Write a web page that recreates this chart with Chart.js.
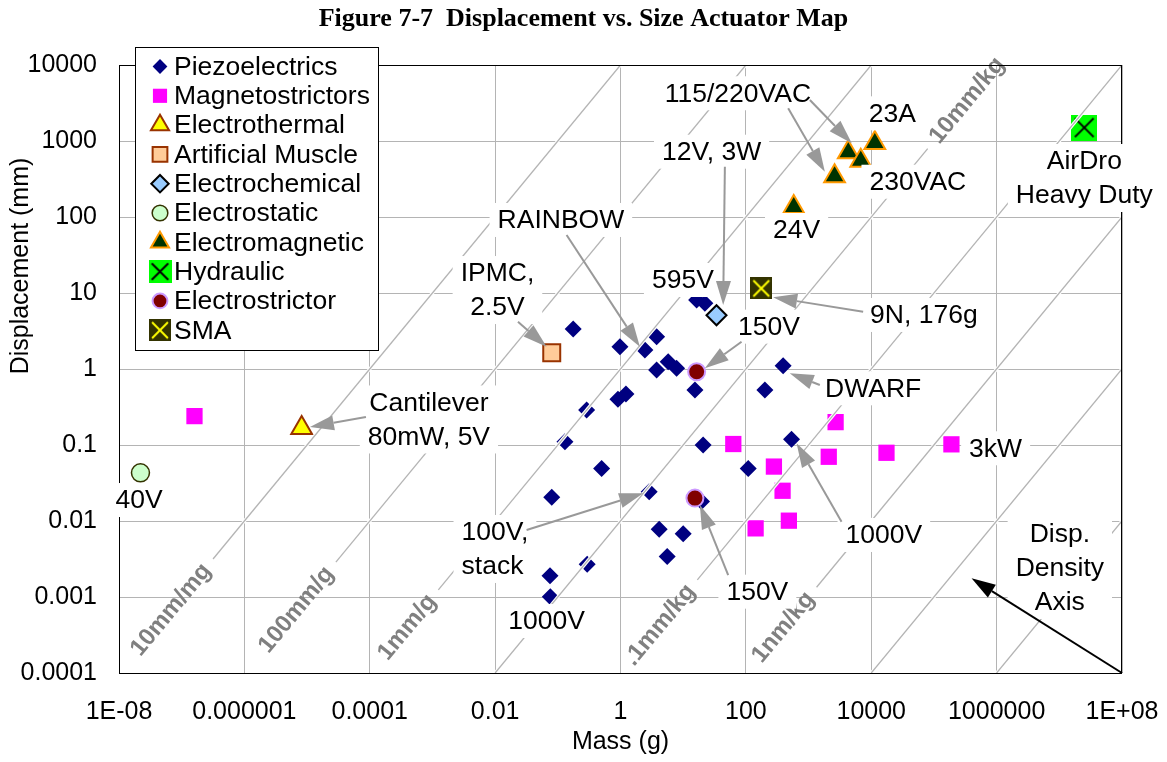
<!DOCTYPE html>
<html><head><meta charset="utf-8">
<script src="https://cdn.jsdelivr.net/npm/chart.js@4.4.1/dist/chart.umd.min.js"></script>
<style>html,body{margin:0;padding:0;background:#fff;}canvas{display:block;}</style>
</head><body>
<canvas id="c" width="1167" height="762"></canvas>
<script>
// ---------- DATA ----------
const xTickValues = [1e-8, 1e-6, 1e-4, 1e-2, 1, 1e2, 1e4, 1e6, 1e8];
const xTickLabels = ['1E-08', '0.000001', '0.0001', '0.01', '1', '100', '10000', '1000000', '1E+08'];
const yTickValues = [1e-4, 1e-3, 1e-2, 0.1, 1, 10, 100, 1000, 1e4];
const yTickLabels = ['0.0001', '0.001', '0.01', '0.1', '1', '10', '100', '1000', '10000'];

const piezoMass = [0.176, 0.98, 2.45, 3.77, 3.77, 5.77, 7.85, 15.4, 16.4, 22.2, 201, 393, 0.288, 0.91, 1.22, 0.130, 0.50, 0.080, 2.87, 19.6, 20.8, 109, 4.14, 10.0, 5.56, 0.075, 0.294, 0.076, 535];
const piezoDisp = [3.36, 1.96, 1.78, 2.66, 0.97, 1.25, 1.02, 0.53, 8.09, 7.32, 0.53, 1.10, 0.289, 0.40, 0.47, 0.110, 0.049, 0.0205, 0.0243, 0.018, 0.100, 0.049, 0.0078, 0.0068, 0.0034, 0.0019, 0.0027, 0.00101, 0.119];
const magnetoMass = [1.6e-7, 63, 280, 2700, 2100, 17500, 190000, 385, 485, 143];
const magnetoDisp = [0.24, 0.103, 0.052, 0.20, 0.070, 0.079, 0.102, 0.025, 0.0101, 0.0080];
const thermalMass = [8.2e-6];
const thermalDisp = [0.168];
const muscleMass = [0.080];
const muscleDisp = [1.64];
const chemMass = [34];
const chemDisp = [5.1];
const staticMass = [2.2e-8];
const staticDisp = [0.043];
const emagMass = [11400, 4300, 6800, 2600, 580];
const emagDisp = [940, 710, 550, 345, 135];
const hydraulicMass = [2.5e7];
const hydraulicDisp = [1500];
const strictorMass = [16.4, 15.4];
const strictorDisp = [0.92, 0.020];
const smaMass = [176];
const smaDisp = [11.5];

// displacement-density guide lines (mm per g) and their labels
const densityValues = [1e4, 1e2, 1, 1e-2, 1e-4, 1e-6, 1e-8, 1e-10];
const densityLabels = ['10mm/mg', '100mm/g', '1mm/g', '10mm/kg', '.1mm/kg', '1nm/kg', '', ''];

// ---------- LAYOUT / STYLE CONFIG ----------
const FONT = "'Liberation Sans', Arial, sans-serif";
const NOTE_FONT = '26.5px ' + FONT;
// label placement along each density line: log10(displacement) of label centre, and which end it sits at
const densityLabelPlace = [
  {ly: -3.17, end: 'start'}, {ly: -3.17, end: 'start'}, {ly: -3.40, end: 'start'},
  {ly: 3.53, end: 'end'}, {ly: -3.37, end: 'start'}, {ly: -3.40, end: 'start'}, null, null
];
// callouts: positions in log10 (mass, displacement) space
const callouts = [
  {text: ['Cantilever', '80mW, 5V'], at: [-3.056, -0.664], arrows: [[[-4.061, -0.632], [-4.954, -0.763]]]},
  {text: ['40V'], at: [-7.681, -1.724]},
  {text: ['IPMC,', '2.5V'], at: [-1.963, 1.039], arrows: [[[-1.636, 0.622], [-1.179, 0.293]]]},
  {text: ['RAINBOW'], at: [-0.951, 1.961], arrows: [[[-0.860, 1.763], [0.309, 0.293]]]},
  {text: ['595V'], at: [0.995, 1.171]},
  {text: ['12V, 3W'], at: [1.453, 2.859], arrows: [[[1.665, 2.662], [1.638, 0.842]]]},
  {text: ['115/220VAC'], at: [1.872, 3.628], arrows: [[[2.675, 3.430], [3.260, 2.596]], [[3.021, 3.539], [3.689, 2.970]]]},
  {text: ['23A'], at: [4.337, 3.364]},
  {text: ['230VAC'], at: [4.743, 2.464]},
  {text: ['24V'], at: [2.809, 1.829]},
  {text: ['9N, 176g'], at: [4.839, 0.711], arrows: [[[3.871, 0.754], [2.435, 0.943]]]},
  {text: ['150V'], at: [2.37, 0.557], arrows: [[[1.931, 0.359], [1.346, 0.009]]]},
  {text: ['DWARF'], at: [4.030, -0.254], arrows: [[[3.180, -0.211], [2.700, -0.057]]]},
  {text: ['3kW'], at: [5.984, -1.043]},
  {text: ['1000V'], at: [4.201, -2.184], arrows: [[[3.526, -2.009], [2.809, -0.978]]]},
  {text: ['100V,', 'stack'], at: [-2.003, -2.368], align: 'left', arrows: [[[-1.498, -2.118], [0.362, -1.636]]]},
  {text: ['1000V'], at: [-1.179, -3.316]},
  {text: ['150V'], at: [2.183, -2.930], arrows: [[[1.718, -2.711], [1.266, -1.789]]]},
  {text: ['AirDro', 'Heavy Duty'], at: [7.399, 2.513]},
  {text: ['Disp.', 'Density', 'Axis'], at: [7.008, -2.618], arrows: [[[8, -4], [5.600, -2.754]]], arrowColor: '#000000'}
];

function markerCanvas(size, fill, cross, lw) {
  const c = document.createElement('canvas');
  c.width = size; c.height = size;
  const g = c.getContext('2d');
  g.fillStyle = fill; g.fillRect(0, 0, size, size);
  g.strokeStyle = cross; g.lineWidth = lw;
  const m = size * 0.14;
  g.beginPath();
  g.moveTo(m, m); g.lineTo(size - m, size - m);
  g.moveTo(size - m, m); g.lineTo(m, size - m);
  g.stroke();
  return c;
}
const smaIcon = markerCanvas(22, '#333300', '#ffff00', 2);
const hydIcon = markerCanvas(26, '#00ff00', '#000000', 2);
const smaIconLeg = markerCanvas(22, '#333300', '#ffff00', 2);
const hydIconLeg = markerCanvas(23, '#00ff00', '#000000', 2);

function pts(ms, ds) { return ms.map((m, i) => ({x: m, y: ds[i]})); }
function ds(label, ms, dsv, style, radius, bg, border, bw, order, legIcon) {
  return {label, data: pts(ms, dsv), pointStyle: style, pointRadius: radius, pointHoverRadius: radius,
    pointBackgroundColor: bg, pointBorderColor: border, pointBorderWidth: bw,
    backgroundColor: bg, borderColor: border, order, showLine: false, legIcon};
}
const datasets = [
  ds('Piezoelectrics', piezoMass, piezoDisp, 'rectRot', 8.5, '#000080', '#000080', 0, 10),
  ds('Magnetostrictors', magnetoMass, magnetoDisp, 'rect', 11.5, '#ff00ff', '#ff00ff', 0, 9),
  ds('Electrothermal', thermalMass, thermalDisp, 'triangle', 12, '#ffff00', '#993300', 2, 8),
  ds('Artificial Muscle', muscleMass, muscleDisp, 'rect', 12, '#ffcc99', '#993300', 2, 7),
  ds('Electrochemical', chemMass, chemDisp, 'rectRot', 10, '#99ccff', '#000000', 2, 6),
  ds('Electrostatic', staticMass, staticDisp, 'circle', 9, '#ccffcc', '#333300', 1.5, 5),
  ds('Electromagnetic', emagMass, emagDisp, 'triangle', 12, '#003300', '#ff9900', 2, 4),
  ds('Hydraulic', hydraulicMass, hydraulicDisp, hydIcon, 12, '#00ff00', '#000000', 0, 3, hydIconLeg),
  ds('Electrostrictor', strictorMass, strictorDisp, 'circle', 8.5, '#800000', '#cc99ff', 2, 2),
  ds('SMA', smaMass, smaDisp, smaIcon, 11, '#333300', '#ffff00', 0, 1, smaIconLeg)
];

function drawMarker(ctx, style, r, x, y, bg, border, bw, icon) {
  if (typeof style !== 'string') {
    const im = icon || style;
    ctx.drawImage(im, x - im.width / 2, y - im.height / 2);
    return;
  }
  ctx.beginPath();
  if (style === 'circle') ctx.arc(x, y, r, 0, Math.PI * 2);
  else if (style === 'rect') { const s = r * Math.SQRT1_2; ctx.rect(x - s, y - s, 2 * s, 2 * s); }
  else if (style === 'rectRot') { ctx.moveTo(x - r, y); ctx.lineTo(x, y - r); ctx.lineTo(x + r, y); ctx.lineTo(x, y + r); ctx.closePath(); }
  else if (style === 'triangle') {
    let a = 0;
    ctx.moveTo(x + Math.sin(a) * r, y - Math.cos(a) * r);
    a += 2 * Math.PI / 3; ctx.lineTo(x + Math.sin(a) * r, y - Math.cos(a) * r);
    a += 2 * Math.PI / 3; ctx.lineTo(x + Math.sin(a) * r, y - Math.cos(a) * r);
    ctx.closePath();
  }
  ctx.fillStyle = bg; ctx.fill();
  if (bw > 0) { ctx.strokeStyle = border; ctx.lineWidth = bw; ctx.stroke(); }
}

function drawArrow(ctx, from, to, color, lw, headLen, headW) {
  const ang = Math.atan2(to[1] - from[1], to[0] - from[0]);
  const bx = to[0] - Math.cos(ang) * headLen, by = to[1] - Math.sin(ang) * headLen;
  ctx.strokeStyle = color; ctx.fillStyle = color; ctx.lineWidth = lw;
  ctx.beginPath(); ctx.moveTo(from[0], from[1]); ctx.lineTo(bx, by); ctx.stroke();
  ctx.beginPath();
  ctx.moveTo(to[0], to[1]);
  ctx.lineTo(bx + Math.sin(ang) * headW / 2, by - Math.cos(ang) * headW / 2);
  ctx.lineTo(bx - Math.sin(ang) * headW / 2, by + Math.cos(ang) * headW / 2);
  ctx.closePath(); ctx.fill();
}

const decor = {
  id: 'decor',
  afterDraw(chart) {
    const ctx = chart.ctx, ca = chart.chartArea, xs = chart.scales.x, ys = chart.scales.y;
    const P = (lx, ly) => [xs.getPixelForValue(Math.pow(10, lx)), ys.getPixelForValue(Math.pow(10, ly))];
    ctx.save();
    // density lines
    const p0 = P(0, 0), p1 = P(1, 1);
    const ddx = p1[0] - p0[0], ddy = p1[1] - p0[1];
    const perLog = Math.hypot(ddx, ddy);
    const ang = Math.atan2(ddy, ddx);
    ctx.font = 'bold 24px ' + FONT;
    ctx.save();
    ctx.beginPath(); ctx.rect(ca.left, ca.top, ca.right - ca.left, ca.bottom - ca.top); ctx.clip();
    densityValues.forEach((k, i) => {
      const lk = Math.log10(k);
      let a = Math.max(-8, -4 - lk), b = Math.min(8, 4 - lk);
      const place = densityLabelPlace[i];
      if (place && densityLabels[i]) {
        const w = ctx.measureText(densityLabels[i]).width;
        const gap = (w / 2 + 10) / perLog;
        const lxc = place.ly - lk;
        if (place.end === 'start') a = lxc + gap; else b = lxc - gap;
      }
      if (b > a) {
        const s = P(a, a + lk), e = P(b, b + lk);
        ctx.beginPath(); ctx.moveTo(s[0], s[1]); ctx.lineTo(e[0], e[1]);
        ctx.strokeStyle = '#ffffff'; ctx.lineWidth = 3.5; ctx.stroke();
        ctx.beginPath(); ctx.moveTo(s[0], s[1]); ctx.lineTo(e[0], e[1]);
        ctx.strokeStyle = '#b4b4b4'; ctx.lineWidth = 1.3; ctx.stroke();
      }
    });
    ctx.restore();
    densityValues.forEach((k, i) => {
      const place = densityLabelPlace[i];
      if (!place || !densityLabels[i]) return;
      const lk = Math.log10(k);
      const c = P(place.ly - lk, place.ly);
      ctx.save();
      ctx.translate(c[0], c[1]); ctx.rotate(ang);
      ctx.fillStyle = '#808080'; ctx.textAlign = 'center'; ctx.textBaseline = 'middle';
      ctx.fillText(densityLabels[i], 0, 0);
      ctx.restore();
    });
    // plot border
    ctx.strokeStyle = '#000'; ctx.lineWidth = 1;
    ctx.strokeRect(Math.round(ca.left) + 0.5, Math.round(ca.top) + 0.5, Math.round(ca.right - ca.left) - 1, Math.round(ca.bottom - ca.top));
    // callouts
    ctx.font = NOTE_FONT; ctx.textBaseline = 'middle';
    const lh = 34;
    const info = callouts.map(c => {
      const cp = P(c.at[0], c.at[1]);
      const w = Math.max(...c.text.map(t => ctx.measureText(t).width));
      return {c, cp, w};
    });
    ctx.fillStyle = '#fff';
    info.forEach(({c, cp, w}) => {
      const n = c.text.length;
      ctx.fillRect(cp[0] - w / 2 - 8, cp[1] - n * lh / 2, w + 16, n * lh);
    });
    info.forEach(({c}) => {
      (c.arrows || []).forEach(a => drawArrow(ctx, P(a[0][0], a[0][1]), P(a[1][0], a[1][1]), c.arrowColor || '#999999', 2, 24, 15));
    });
    ctx.fillStyle = '#000';
    info.forEach(({c, cp, w}) => {
      const n = c.text.length;
      ctx.textAlign = c.align || 'center';
      c.text.forEach((t, j) => {
        const ty = cp[1] + (j - (n - 1) / 2) * lh;
        const tx = c.align === 'left' ? cp[0] - w / 2 : cp[0];
        ctx.fillText(t, tx, ty + 1);
      });
    });
    // legend
    const L = {x: 135, y: 47, w: 243, h: 303};
    ctx.fillStyle = '#fff'; ctx.fillRect(L.x, L.y, L.w, L.h);
    ctx.strokeStyle = '#000'; ctx.lineWidth = 1; ctx.strokeRect(L.x + 0.5, L.y + 0.5, L.w, L.h);
    ctx.textAlign = 'left';
    ctx.font = NOTE_FONT;
    chart.data.datasets.forEach((d, i) => {
      const y = 66.5 + i * 29.3;
      drawMarker(ctx, d.pointStyle, d.pointRadius * 0.87, 160, y, d.pointBackgroundColor, d.pointBorderColor, d.pointBorderWidth, d.legIcon);
      ctx.fillStyle = '#000';
      ctx.fillText(d.label, 174, y + 1);
    });
    // titles
    ctx.fillStyle = '#000'; ctx.textAlign = 'center'; ctx.textBaseline = 'middle';
    ctx.font = "bold 26px 'Liberation Serif', 'Times New Roman', serif";
    ctx.fillText('Figure 7-7  Displacement vs. Size Actuator Map', 583.5, 19);
    ctx.font = '25px ' + FONT;
    ctx.fillText('Mass (g)', (ca.left + ca.right) / 2, 742);
    ctx.save(); ctx.translate(21, 266); ctx.rotate(-Math.PI / 2);
    ctx.fillText('Displacement (mm)', 0, 0);
    ctx.restore();
    ctx.restore();
  }
};

new Chart(document.getElementById('c'), {
  type: 'scatter',
  data: {datasets},
  options: {
    responsive: false, animation: false, devicePixelRatio: 1,
    layout: {padding: {left: 0, top: 65, right: 45, bottom: 0}},
    plugins: {legend: {display: false}, tooltip: {enabled: false}, title: {display: false}},
    scales: {
      x: {
        type: 'logarithmic', min: 1e-8, max: 1e8,
        afterBuildTicks: s => { s.ticks = xTickValues.map(v => ({value: v})); },
        afterFit: s => { s.height = 89; s.paddingLeft = 0; s.paddingRight = 0; },
        grid: {color: '#b4b4b4', lineWidth: 1, drawTicks: false},
        border: {display: false},
        ticks: {autoSkip: false, maxRotation: 0, padding: 24, color: '#000', font: {family: FONT, size: 25},
          callback: (v, i) => xTickLabels[i]}
      },
      y: {
        type: 'logarithmic', min: 1e-4, max: 1e4,
        afterBuildTicks: s => { s.ticks = yTickValues.map(v => ({value: v})); },
        afterFit: s => { s.width = 119; s.paddingTop = 0; s.paddingBottom = 0; },
        grid: {color: '#b4b4b4', lineWidth: 1, drawTicks: false},
        border: {display: false},
        ticks: {autoSkip: false, padding: 22, color: '#000', font: {family: FONT, size: 25},
          callback: (v, i) => yTickLabels[i]}
      }
    }
  },
  plugins: [decor]
});
</script>
</body></html>
